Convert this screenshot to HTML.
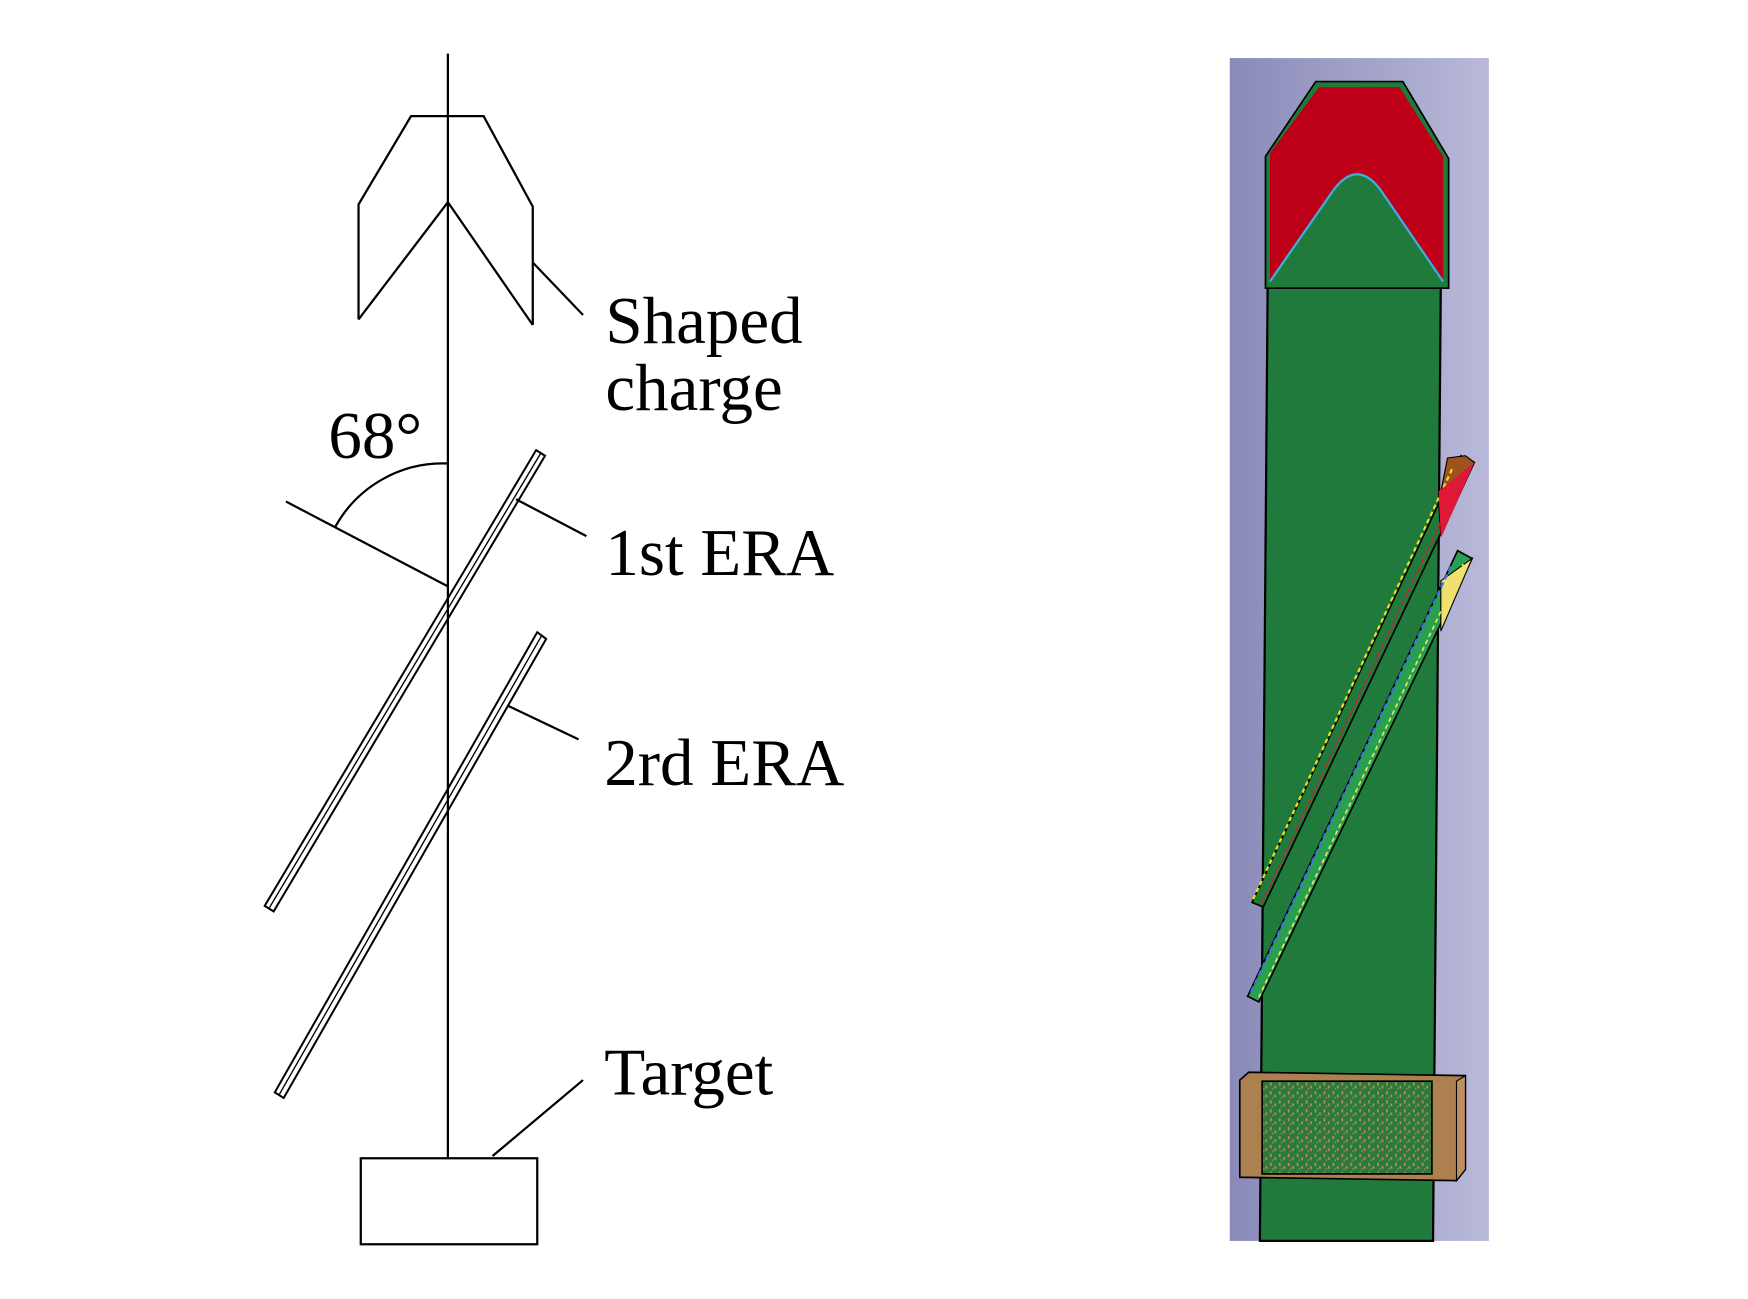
<!DOCTYPE html>
<html><head><meta charset="utf-8"><style>html,body{margin:0;padding:0;background:#fff}svg{display:block}</style></head>
<body>
<svg width="1748" height="1299" viewBox="0 0 1565 1163" preserveAspectRatio="none" xmlns="http://www.w3.org/2000/svg">
<defs>
<linearGradient id="bg" x1="0" x2="1" y1="0" y2="0">
<stop offset="0" stop-color="#8a8ab9"/><stop offset="1" stop-color="#b9b9d9"/>
</linearGradient>
<pattern id="speck" width="8" height="8" patternUnits="userSpaceOnUse">
<rect width="8" height="8" fill="#2a7a3c"/>
<rect x="1" y="1" width="1.5" height="3" fill="#c08a5a"/>
<rect x="5" y="4" width="1.5" height="2.5" fill="#c08a5a"/>
<rect x="3" y="6" width="1" height="1.5" fill="#c08a5a"/>
</pattern>
</defs>
<g stroke="#000" stroke-width="2" fill="none">
<line x1="401" y1="48" x2="401" y2="1037"/>
<polyline points="321,286 321,183 368,104 433,104 477,185 477,291"/>
<polyline points="321,286 401,181 477,291"/>
<line x1="477" y1="235" x2="522" y2="282"/>
<line x1="256" y1="449" x2="401" y2="525"/>
<path d="M401,415 A110,110 0 0 0 300,472"/>
<polygon points="237,811 245,816 488,408 480,403" stroke-width="1.8"/>
<line x1="241" y1="813" x2="484" y2="406" stroke-width="1.2"/>
<polygon points="246,978 254,983 489,572 481,566" stroke-width="1.8"/>
<line x1="250" y1="980" x2="485" y2="569" stroke-width="1.2"/>
<line x1="462" y1="447" x2="525" y2="480"/>
<line x1="455" y1="632" x2="518" y2="662"/>
<rect x="323" y="1037" width="158" height="77"/>
<line x1="441" y1="1035" x2="522" y2="967"/>
</g>
<g font-family="Liberation Serif, serif" font-size="60" fill="#000">
<text x="542" y="307">Shaped</text>
<text x="542" y="367">charge</text>
<text x="294" y="410">68°</text>
<text x="542" y="515">1st ERA</text>
<text x="541" y="703">2rd ERA</text>
<text x="541" y="980">Target</text>
</g>
<rect x="1101" y="52" width="232" height="1059" fill="url(#bg)"/>
<polygon points="1135,250 1290,250 1283,1111 1128,1111" fill="#207a3c" stroke="#000" stroke-width="2"/>
<polygon points="1133,140 1178,73 1256,73 1297,142 1297,258 1133,258" fill="#207a3c" stroke="#000" stroke-width="1.5"/>
<path d="M1137,137 L1181,78 L1253,78 L1292,140 L1292,252 L1236,170 Q1215,142 1194,170 L1137,252 Z" fill="#bd0018"/>
<path d="M1137,252 L1194,170 Q1215,142 1236,170 L1292,252" fill="none" stroke="#3ab0e0" stroke-width="2"/>
<polygon points="1121,808 1131,812 1320,414 1308,408" fill="#207a3c" stroke="#000" stroke-width="1.5"/>
<polygon points="1288,450 1296,410 1312,408 1320,414 1290,480" fill="#a0521e" stroke="#000" stroke-width="1"/>
<line x1="1122" y1="805" x2="1300" y2="420" stroke="#e8e020" stroke-width="2" stroke-dasharray="4,3"/>
<line x1="1130" y1="808" x2="1312" y2="420" stroke="#d02030" stroke-width="1.5" stroke-dasharray="4,3"/>
<polygon points="1288,440 1320,414 1290,482" fill="#e01838"/>
<polygon points="1117,892 1127,897 1318,500 1305,493" fill="#28a050" stroke="#000" stroke-width="1.5"/>
<polygon points="1290,520 1318,500 1290,565" fill="#f0e070" stroke="#000" stroke-width="1"/>
<line x1="1120" y1="888" x2="1300" y2="505" stroke="#4070e0" stroke-width="2" stroke-dasharray="5,3"/>
<line x1="1127" y1="893" x2="1310" y2="505" stroke="#f0e060" stroke-width="1.5" stroke-dasharray="4,3"/>
<polygon points="1110,967 1118,960 1312,963 1312,1047 1304,1057 1110,1054" fill="#ad8050" stroke="#000" stroke-width="1.5"/>
<polygon points="1304,968 1312,963 1312,1047 1304,1057" fill="#c09060" stroke="#000" stroke-width="1"/>
<rect x="1130" y="968" width="152" height="83" fill="url(#speck)" stroke="#000" stroke-width="1.5"/>
</svg>
</body></html>
